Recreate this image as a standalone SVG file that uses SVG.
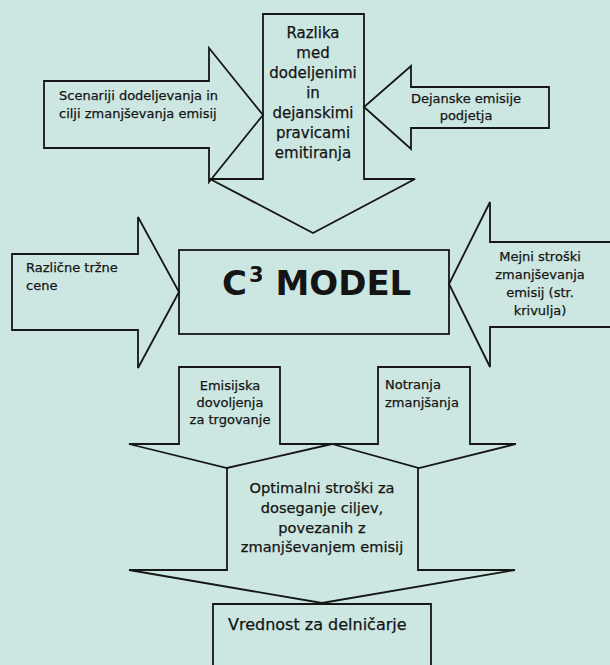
<svg xmlns="http://www.w3.org/2000/svg" width="610" height="665" viewBox="0 0 610 665">
<style>
.shape{fill:none;stroke:#161616;stroke-width:1.8;stroke-linejoin:miter}
.t{font-family:"DejaVu Sans","Verdana",sans-serif;fill:#141414;stroke:#141414;stroke-width:0.25}
.s13{font-size:13px}
.s15{font-size:15px}
.s145{font-size:14.6px}
.s16{font-size:16px}
.mid{text-anchor:middle}
.big{font-family:"DejaVu Sans","Verdana",sans-serif;font-weight:bold;fill:#141414}
</style>
<rect x="0" y="0" width="610" height="665" fill="#cce7e1"/>
<g id="connectors"></g>
<g id="razlika">
<polygon class="shape" points="263,14 364,14 364,179 415,179 313,233 210,179 263,179"/>
<text class="t s15 mid" x="313" y="38">Razlika</text>
<text class="t s15 mid" x="313" y="58">med</text>
<text class="t s15 mid" x="313" y="78">dodeljenimi</text>
<text class="t s15 mid" x="313" y="98">in</text>
<text class="t s15 mid" x="313" y="118">dejanskimi</text>
<text class="t s15 mid" x="313" y="138">pravicami</text>
<text class="t s15 mid" x="313" y="158">emitiranja</text>
</g>
<g id="scenariji">
<polygon class="shape" points="44,81 209,81 209,48 263,115 209,182 209,148 44,148"/>
<text class="t s13" x="59" y="100">Scenariji dodeljevanja in</text>
<text class="t s13" x="59" y="118">cilji zmanjševanja emisij</text>
</g>
<g id="dejanske">
<polygon class="shape" points="549,87 411,87 411,66 364,107 411,149 411,128 549,128"/>
<text class="t s13 mid" x="466" y="103">Dejanske emisije</text>
<text class="t s13 mid" x="466" y="120">podjetja</text>
</g>
<g id="razlicne">
<polygon class="shape" points="12,254 138,254 138,217 179,292 138,368 138,330 12,330"/>
<text class="t s13" x="26" y="272">Različne tržne</text>
<text class="t s13" x="26" y="290">cene</text>
</g>
<g id="c3model">
<rect class="shape" x="179" y="250" width="270" height="84"/>
<text class="big" x="222" y="295" font-size="34">C<tspan font-size="21" dx="2" dy="-13">3</tspan><tspan dy="13"> MODEL</tspan></text>
</g>
<g id="mejni">
<polygon class="shape" points="615,242 490,242 490,202 449,284 490,367 490,327 615,327"/>
<text class="t s13 mid" x="540" y="261">Mejni stroški</text>
<text class="t s13 mid" x="540" y="279">zmanjševanja</text>
<text class="t s13 mid" x="540" y="297">emisij (str.</text>
<text class="t s13 mid" x="540" y="315">krivulja)</text>
</g>
<g id="emisijska">
<polygon class="shape" points="179,367 280,367 280,444 332,444 227,468 129,444 179,444"/>
<text class="t s13 mid" x="230" y="390">Emisijska</text>
<text class="t s13 mid" x="230" y="407">dovoljenja</text>
<text class="t s13 mid" x="230" y="424">za trgovanje</text>
</g>
<g id="notranja">
<polygon class="shape" points="378,367 470,367 470,444 516,444 419,468 332,444 378,444"/>
<text class="t s13" x="385" y="389">Notranja</text>
<text class="t s13" x="385" y="407">zmanjšanja</text>
</g>
<g id="optimalni">
<polyline class="shape" points="227,468 227,570 129,570 322,603 515,570 418,570 418,468"/>
<text class="t s145 mid" x="322" y="493">Optimalni stroški za</text>
<text class="t s145 mid" x="322" y="513">doseganje ciljev,</text>
<text class="t s145 mid" x="322" y="533">povezanih z</text>
<text class="t s145 mid" x="322" y="552">zmanjševanjem emisij</text>
</g>
<g id="vrednost">
<polyline class="shape" points="213,670 213,604 431,604 431,670"/>
<text class="t s16" x="228" y="630">Vrednost za delničarje</text>
</g>
</svg>
